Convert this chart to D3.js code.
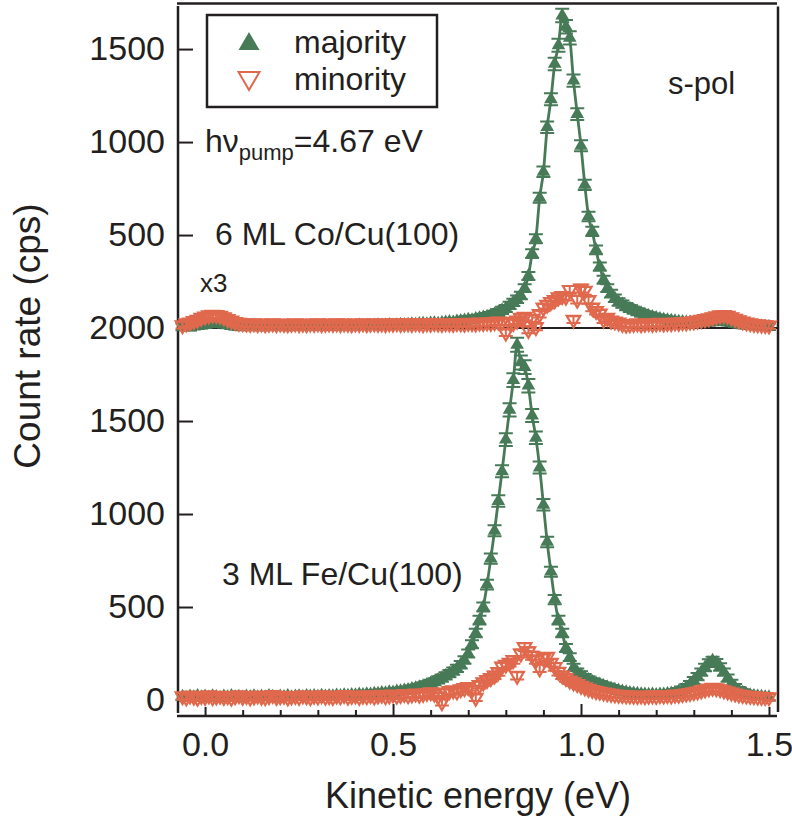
<!DOCTYPE html>
<html><head><meta charset="utf-8">
<script src="https://cdn.jsdelivr.net/npm/d3@7"></script>
<style>
body{margin:0;background:#fff}
svg{display:block}
text{font-family:"Liberation Sans",Arial,Helvetica,sans-serif;fill:#231f20}
</style>
</head><body>
<svg id="chart" width="792" height="821"></svg>
<script>
// ---------- DATA ----------
// energy grid: -0.06 eV ... 1.50 eV in 0.01 eV steps (157 points)
const energyStart = -0.06, energyStep = 0.01, nPoints = 157;

// 3 ML Fe/Cu(100), counts (cps)
const feMajority = [
 18,12,20,16,22,15,19,14,21,17,
 13,20,16,22,15,18,14,20,17,21,
 15,19,16,22,18,14,20,17,23,16,
 19,21,17,23,19,22,18,24,20,23,
 21,25,22,26,24,28,26,30,28,32,
 31,35,34,38,37,42,41,46,48,52,
 55,60,64,69,75,82,90,98,108,118,
 130,142,155,170,190,215,250,300,360,430,
 500,620,760,910,1070,1230,1400,1560,1720,1910,
 1815,1790,1690,1530,1410,1250,1050,850,690,540,
 430,360,280,230,175,150,135,120,108,98,
 90,84,76,70,62,56,50,46,42,38,
 36,34,32,30,29,30,28,30,31,33,
 36,40,46,55,68,84,104,126,150,175,
 198,212,200,178,150,118,90,68,52,40,
 32,27,23,20,18,16,15];
const feMinority = [
 20,14,24,18,12,22,17,25,15,19,
 23,16,21,13,20,26,17,22,14,19,
 24,18,15,21,27,16,20,23,14,19,
 22,17,25,20,15,23,19,26,18,21,
 16,24,20,27,18,22,25,17,23,21,
 26,19,24,28,21,25,30,23,27,32,
 26,30,35,28,33,38,42,34,20,-12,
 40,48,52,46,58,64,70,55,12,80,
 95,108,118,132,150,180,190,200,215,130,
 250,285,262,238,215,170,225,232,200,178,
 152,132,118,105,95,86,76,68,60,54,
 48,44,40,36,33,30,28,27,25,24,
 23,22,24,21,23,25,22,26,24,27,
 25,29,28,32,35,38,42,46,52,57,
 62,66,63,58,52,46,40,35,30,27,
 24,22,20,18,17,16,15];

// 6 ML Co/Cu(100), counts above the 2000 cps offset
const coOffset = 2000;
const coMajority = [
 5,8,4,10,12,15,18,22,25,26,
 24,20,16,12,9,7,5,8,6,9,
 7,5,9,6,8,10,7,9,6,8,
 10,7,9,11,8,10,12,9,11,8,
 10,12,9,11,13,10,12,14,11,13,
 12,14,16,13,15,17,14,16,18,17,
 19,21,18,22,24,21,25,27,24,28,
 30,33,31,36,38,42,45,43,50,53,
 58,62,68,75,84,95,105,122,138,155,
 175,215,280,400,480,700,840,1080,1230,1420,
 1520,1680,1620,1560,1330,1150,980,770,600,520,
 420,330,260,215,185,160,140,128,115,105,
 96,88,80,72,66,60,55,50,46,43,
 40,37,35,33,31,30,29,28,28,29,
 31,33,35,36,35,32,28,24,20,17,
 15,13,11,10,9,8,7];
const coMinority = [
 15,25,30,38,45,55,62,68,72,70,
 66,58,48,40,33,28,26,24,22,25,
 21,24,20,23,25,21,24,22,20,23,
 25,21,23,20,24,22,25,21,23,24,
 22,25,21,24,23,20,24,22,25,21,
 23,25,22,24,21,25,23,26,22,24,
 25,22,26,24,21,25,23,27,24,22,
 26,24,22,27,25,23,28,26,24,29,
 27,30,28,32,35,34,-25,30,28,40,
 55,60,-10,50,5,75,110,125,140,150,
 165,172,168,205,45,152,212,200,150,110,
 92,78,45,55,40,35,30,22,18,20,
 22,25,20,23,26,22,25,28,24,27,
 26,30,28,32,30,34,36,40,44,48,
 52,58,63,68,70,66,58,50,42,35,
 30,26,22,20,18,16,14];

const yTickValues = [0,500,1000,1500,2000,2500,3000,3500];
const yTickLabels = ["0","500","1000","1500","2000","500","1000","1500"];
const xTickValues = [0,0.1,0.2,0.3,0.4,0.5,0.6,0.7,0.8,0.9,1.0,1.1,1.2,1.3,1.4,1.5];
const xTickLabels = {"0":"0.0","0.5":"0.5","1":"1.0","1.5":"1.5"};
const seriesNames = ["majority","minority"];

// ---------- STYLE ----------
const green = "#477a57", orange = "#e0694d", ink = "#231f20";
const FONT = "'Liberation Sans',Arial,sans-serif";

// ---------- SCALES ----------
const svg = d3.select("#chart");
const x = d3.scaleLinear().domain([-0.072, 1.524]).range([178, 778]);
const y = d3.scaleLinear().domain([-86, 3745]).range([716, 3.5]);
const energies = d3.range(nPoints).map(i => +(energyStart + i*energyStep).toFixed(2));

const toPts = (vals, off) => vals.map((v,i) => ({e: energies[i], v: v + off, raw: v}));
const feMaj = toPts(feMajority, 0), feMin = toPts(feMinority, 0);
const coMaj = toPts(coMajority, coOffset), coMin = toPts(coMinority, coOffset);
// counting-statistics error bars
const err = d => Math.sqrt(0.6*Math.abs(d.raw) + 300);

// ---------- FRAME ----------
const frame = svg.append("g").attr("stroke", ink).attr("stroke-width", 2.5);
frame.append("line").attr("x1",178).attr("x2",178).attr("y1",6).attr("y2",713);
frame.append("line").attr("x1",177).attr("x2",777).attr("y1",716).attr("y2",716);
frame.append("line").attr("x1",177).attr("x2",777).attr("y1",3.5).attr("y2",3.5);
frame.append("line").attr("x1",778).attr("x2",778).attr("y1",6.5).attr("y2",712);

// offset baseline
svg.append("line").attr("x1",179).attr("x2",777)
  .attr("y1",y(coOffset)).attr("y2",y(coOffset))
  .attr("stroke",ink).attr("stroke-width",2);

// ---------- AXES ----------
const yAxis = d3.axisLeft(y).tickValues(yTickValues)
  .tickFormat((d,i) => yTickLabels[i]).tickSize(-15).tickPadding(13);
const gy = svg.append("g").attr("transform","translate(178,0)").call(yAxis);
gy.select(".domain").remove();
gy.selectAll(".tick line").attr("stroke",ink).attr("stroke-width",2);
gy.selectAll(".tick text").attr("font-size",34).attr("fill",ink).attr("font-family",FONT);

const xAxis = d3.axisBottom(x).tickValues(xTickValues)
  .tickFormat(d => xTickLabels[String(+d.toFixed(2))] || "").tickSize(0).tickPadding(16);
const gx = svg.append("g").attr("transform","translate(0,716)").call(xAxis);
gx.select(".domain").remove();
gx.selectAll(".tick line").attr("stroke",ink).attr("stroke-width",2)
  .attr("y2", d => { const k = +d.toFixed(2); return (k===0.5||k===1) ? -12 : (k===0||k===1.5) ? -9 : -6; });
gx.selectAll(".tick text").attr("font-size",34).attr("fill",ink).attr("font-family",FONT);

// axis titles
svg.append("text").attr("x",478).attr("y",808).attr("text-anchor","middle")
  .attr("font-size",36).text("Kinetic energy (eV)");
svg.append("text").attr("transform","translate(40,336) rotate(-90)").attr("text-anchor","middle")
  .attr("font-size",37).text("Count rate (cps)");

// ---------- DATA MARKS ----------
const plot = svg.append("g");
const triUp = d3.symbol().type(d3.symbolTriangle).size(80);
const line = d3.line().x(d => x(d.e)).y(d => y(d.v)).curve(d3.curveMonotoneX);

function errorBars(g, pts, color){
  const cap = 7;
  const eb = g.append("g").attr("stroke", color).attr("stroke-width", 2).attr("fill","none");
  eb.selectAll("path").data(pts).join("path")
    .attr("d", d => {
      const cx = x(d.e), y1 = y(d.v + err(d)), y2 = y(d.v - err(d));
      return `M${cx},${y1}V${y2}M${cx-cap},${y1}H${cx+cap}M${cx-cap},${y2}H${cx+cap}`;
    });
}
function majority(pts){
  plot.append("path").datum(pts).attr("d", line)
    .attr("fill","none").attr("stroke",green).attr("stroke-width",2.8);
  errorBars(plot, pts, green);
  plot.append("g").selectAll("path").data(pts).join("path")
    .attr("transform", d => `translate(${x(d.e)},${y(d.v)})`)
    .attr("d", triUp).attr("fill", green);
}
function minority(pts){
  errorBars(plot, pts, orange);
  plot.append("g").selectAll("path").data(pts).join("path")
    .attr("transform", d => `translate(${x(d.e)},${y(d.v)}) rotate(180)`)
    .attr("d", triUp).attr("fill","none").attr("stroke",orange).attr("stroke-width",2.2);
}
majority(feMaj); majority(coMaj);
minority(feMin); minority(coMin);

// ---------- LEGEND ----------
const lg = svg.append("g");
lg.append("rect").attr("x",207).attr("y",15).attr("width",230).attr("height",92)
  .attr("fill","white").attr("stroke",ink).attr("stroke-width",2.5);
const legSym = d3.symbol().type(d3.symbolTriangle).size(190);
lg.append("path").attr("d",legSym).attr("transform","translate(249,44)").attr("fill",green);
lg.append("path").attr("d",legSym).attr("transform","translate(249,78) rotate(180)")
  .attr("fill","none").attr("stroke",orange).attr("stroke-width",2);
lg.append("text").attr("x",294).attr("y",53).attr("font-size",32).text(seriesNames[0]);
lg.append("text").attr("x",294).attr("y",90).attr("font-size",32).text(seriesNames[1]);

// ---------- ANNOTATIONS ----------
svg.append("text").attr("x",668).attr("y",94).attr("font-size",31).text("s-pol");
const hv = svg.append("text").attr("x",205).attr("y",152).attr("font-size",32);
hv.append("tspan").text("hν");
hv.append("tspan").attr("font-size",22).attr("dy",8).text("pump");
hv.append("tspan").attr("dy",-8).text("=4.67 eV");
svg.append("text").attr("x",215).attr("y",245).attr("font-size",32).text("6 ML Co/Cu(100)");
svg.append("text").attr("x",200).attr("y",292).attr("font-size",26).text("x3");
svg.append("text").attr("x",222).attr("y",585).attr("font-size",32).text("3 ML Fe/Cu(100)");
</script>
</body></html>
